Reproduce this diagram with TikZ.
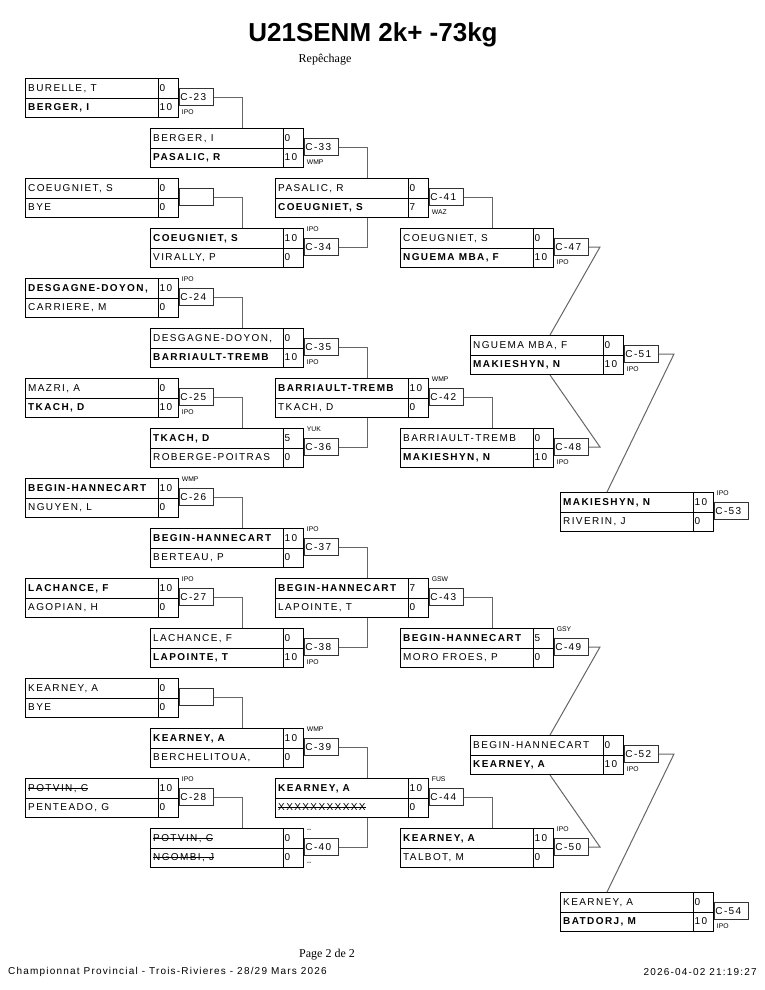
\documentclass[tikz,border=0pt]{standalone}
\usepackage{fontspec}
\setmainfont{Liberation Sans}
\newfontfamily\nmfont[LetterSpace=14]{Liberation Sans}
\newfontfamily\ftfont[LetterSpace=12]{Liberation Sans}
\newfontfamily\serf{Liberation Serif}
\newsavebox\strkbox
\newcommand\strk[1]{\sbox\strkbox{#1}\rlap{\usebox\strkbox}\rule[0.33em]{\wd\strkbox}{0.6pt}}
\newcommand\bn[1]{\textbf{#1}}
\newcommand\match[7]{%
  \node[boxframe] (m#1) at (#2,#3) {};
  \draw[boxline] (m#1.west) -- (m#1.east);
  \draw[boxline] ([xshift=133pt]m#1.north west) -- ([xshift=133pt]m#1.south west);
  \node[txt] (m#1n1) at ([xshift=3pt,yshift=-13.4pt]m#1.north west) {#4};
  \node[txt] (m#1s1) at ([xshift=134.5pt,yshift=-13.4pt]m#1.north west) {#5};
  \node[txt] (m#1n2) at ([xshift=3pt,yshift=-32.8pt]m#1.north west) {#6};
  \node[txt] (m#1s2) at ([xshift=134.5pt,yshift=-32.8pt]m#1.north west) {#7};
}
\newcommand\lbl[2]{%
  \node[lblbox] (l#1) at ([yshift=-10pt]m#1.north east) {};
  \node[txt] (l#1t) at ([xshift=1.2pt,yshift=-22.5pt]m#1.north east) {#2};
}
\newcommand\annA[2]{\node[anntext] (a#1t) at ([xshift=2.7pt,yshift=-3.8pt]m#1.north east) {#2};}
\newcommand\annB[2]{\node[anntext] (a#1b) at ([xshift=2.7pt,yshift=-36.3pt]m#1.north east) {#2};}
\begin{document}
\begin{tikzpicture}[x=1pt,y=-1pt,
  boxframe/.style={draw=black, line width=1pt, minimum width=153pt, minimum height=39pt, inner sep=0pt, anchor=north west},
  boxline/.style={draw=black, line width=1pt},
  txt/.style={font=\nmfont\fontsize{10}{11}\selectfont, inner sep=0pt, anchor=base west},
  lblbox/.style={draw=black!80, line width=1pt, minimum width=34pt, minimum height=17pt, inner sep=0pt, anchor=north west},
  anntext/.style={font=\fontsize{6.8}{7}\selectfont, inner sep=0pt, anchor=base west},
  conn/.style={draw=black!60, line width=1pt},
]
\fill[white] (0,0) rectangle (765,990);
\useasboundingbox (0,0) rectangle (765,990);

\node[font=\bfseries\fontsize{26}{30}\selectfont, inner sep=0pt] (title) at (373,35) {U21SENM 2k+ -73kg};
\node[font=\serf\fontsize{12}{13}\selectfont, inner sep=0pt] (sub) at (325,60) {Repêchage};
\node[font=\serf\fontsize{12}{13}\selectfont, inner sep=0pt] (pg) at (327,955) {Page 2 de 2};
\node[font=\ftfont\fontsize{10}{11}\selectfont, inner sep=0pt, anchor=west] (foot) at (8,972) {Championnat Provincial - Trois-Rivieres - 28/29 Mars 2026};
\node[font=\ftfont\fontsize{10}{11}\selectfont, inner sep=0pt, anchor=east] (date) at (757,972) {2026-04-02 21:19:27};

% column 1
\match{23}{25}{78}{BURELLE, T}{0}{\bn{BERGER, I}}{10}
\match{b1}{25}{178}{COEUGNIET, S}{0}{BYE}{0}
\match{24}{25}{278}{\bn{DESGAGNE-DOYON,}}{10}{CARRIERE, M}{0}
\match{25}{25}{378}{MAZRI, A}{0}{\bn{TKACH, D}}{10}
\match{26}{25}{478}{\bn{BEGIN-HANNECART}}{10}{NGUYEN, L}{0}
\match{27}{25}{578}{\bn{LACHANCE, F}}{10}{AGOPIAN, H}{0}
\match{b2}{25}{678}{KEARNEY, A}{0}{BYE}{0}
\match{28}{25}{778}{\strk{POTVIN, C}}{10}{PENTEADO, G}{0}
% column 2
\match{33}{150}{128}{BERGER, I}{0}{\bn{PASALIC, R}}{10}
\match{34}{150}{228}{\bn{COEUGNIET, S}}{10}{VIRALLY, P}{0}
\match{35}{150}{328}{DESGAGNE-DOYON,}{0}{\bn{BARRIAULT-TREMB}}{10}
\match{36}{150}{428}{\bn{TKACH, D}}{5}{ROBERGE-POITRAS}{0}
\match{37}{150}{528}{\bn{BEGIN-HANNECART}}{10}{BERTEAU, P}{0}
\match{38}{150}{628}{LACHANCE, F}{0}{\bn{LAPOINTE, T}}{10}
\match{39}{150}{728}{\bn{KEARNEY, A}}{10}{BERCHELITOUA,}{0}
\match{40}{150}{828}{\strk{POTVIN, C}}{0}{\strk{NGOMBI, J}}{0}
% column 3
\match{41}{275}{178}{PASALIC, R}{0}{\bn{COEUGNIET, S}}{7}
\match{42}{275}{378}{\bn{BARRIAULT-TREMB}}{10}{TKACH, D}{0}
\match{43}{275}{578}{\bn{BEGIN-HANNECART}}{7}{LAPOINTE, T}{0}
\match{44}{275}{778}{\bn{KEARNEY, A}}{10}{\strk{XXXXXXXXXXX}}{0}
% column 4
\match{47}{400}{228}{COEUGNIET, S}{0}{\bn{NGUEMA MBA, F}}{10}
\match{48}{400}{428}{BARRIAULT-TREMB}{0}{\bn{MAKIESHYN, N}}{10}
\match{49}{400}{628}{\bn{BEGIN-HANNECART}}{5}{MORO FROES, P}{0}
\match{50}{400}{828}{\bn{KEARNEY, A}}{10}{TALBOT, M}{0}
% column 5
\match{51}{470}{335}{NGUEMA MBA, F}{0}{\bn{MAKIESHYN, N}}{10}
\match{52}{470}{735}{BEGIN-HANNECART}{0}{\bn{KEARNEY, A}}{10}
% column 6
\match{53}{560}{492}{\bn{MAKIESHYN, N}}{10}{RIVERIN, J}{0}
\match{54}{560}{892}{KEARNEY, A}{0}{\bn{BATDORJ, M}}{10}

% labels
\lbl{23}{C-23}\lbl{b1}{}\lbl{24}{C-24}\lbl{25}{C-25}\lbl{26}{C-26}\lbl{27}{C-27}\lbl{b2}{}\lbl{28}{C-28}
\lbl{33}{C-33}\lbl{34}{C-34}\lbl{35}{C-35}\lbl{36}{C-36}\lbl{37}{C-37}\lbl{38}{C-38}\lbl{39}{C-39}\lbl{40}{C-40}
\lbl{41}{C-41}\lbl{42}{C-42}\lbl{43}{C-43}\lbl{44}{C-44}
\lbl{47}{C-47}\lbl{48}{C-48}\lbl{49}{C-49}\lbl{50}{C-50}
\lbl{51}{C-51}\lbl{52}{C-52}
\lbl{53}{C-53}\lbl{54}{C-54}

% annotations
\annB{23}{IPO}\annA{24}{IPO}\annB{25}{IPO}\annA{26}{WMP}\annA{27}{IPO}\annA{28}{IPO}
\annB{33}{WMP}\annA{34}{IPO}\annB{35}{IPO}\annA{36}{YUK}\annA{37}{IPO}\annB{38}{IPO}\annA{39}{WMP}\annA{40}{{-}{-}}\annB{40}{{-}{-}}
\annB{41}{WAZ}\annA{42}{WMP}\annA{43}{GSW}\annA{44}{FUS}
\annB{47}{IPO}\annB{48}{IPO}\annA{49}{GSY}\annA{50}{IPO}
\annB{51}{IPO}\annB{52}{IPO}\annA{53}{IPO}\annB{54}{IPO}

% connectors col1 -> col2
\draw[conn] (l23.east) -| ([xshift=92pt]m33.north west);
\draw[conn] (lb1.east) -| ([xshift=92pt]m34.north west);
\draw[conn] (l24.east) -| ([xshift=92pt]m35.north west);
\draw[conn] (l25.east) -| ([xshift=92pt]m36.north west);
\draw[conn] (l26.east) -| ([xshift=92pt]m37.north west);
\draw[conn] (l27.east) -| ([xshift=92pt]m38.north west);
\draw[conn] (lb2.east) -| ([xshift=92pt]m39.north west);
\draw[conn] (l28.east) -| ([xshift=92pt]m40.north west);
% col2 -> col3
\draw[conn] (l33.east) -| ([xshift=92pt]m41.north west);
\draw[conn] (l34.east) -| ([xshift=92pt]m41.south west);
\draw[conn] (l35.east) -| ([xshift=92pt]m42.north west);
\draw[conn] (l36.east) -| ([xshift=92pt]m42.south west);
\draw[conn] (l37.east) -| ([xshift=92pt]m43.north west);
\draw[conn] (l38.east) -| ([xshift=92pt]m43.south west);
\draw[conn] (l39.east) -| ([xshift=92pt]m44.north west);
\draw[conn] (l40.east) -| ([xshift=92pt]m44.south west);
% col3 -> col4
\draw[conn] (l41.east) -| ([xshift=92pt]m47.north west);
\draw[conn] (l42.east) -| ([xshift=92pt]m48.north west);
\draw[conn] (l43.east) -| ([xshift=92pt]m49.north west);
\draw[conn] (l44.east) -| ([xshift=92pt]m50.north west);
% col4 -> col5
\coordinate (k47) at ([xshift=11pt]l47.east);
\coordinate (k48) at ([xshift=11pt]l48.east);
\coordinate (k49) at ([xshift=11pt]l49.east);
\coordinate (k50) at ([xshift=11pt]l50.east);
\draw[conn] (l47.east) -- (k47) -- ([xshift=80pt]m51.north west);
\draw[conn] (l48.east) -- (k48) -- ([xshift=80pt]m51.south west);
\draw[conn] (l49.east) -- (k49) -- ([xshift=80pt]m52.north west);
\draw[conn] (l50.east) -- (k50) -- ([xshift=80pt]m52.south west);
% col5 -> col6
\coordinate (k51) at ([xshift=15pt]l51.east);
\coordinate (k52) at ([xshift=15pt]l52.east);
\draw[conn] (l51.east) -- (k51) -- ([xshift=47pt]m53.north west);
\draw[conn] (l52.east) -- (k52) -- ([xshift=47pt]m54.north west);
\end{tikzpicture}
\end{document}
